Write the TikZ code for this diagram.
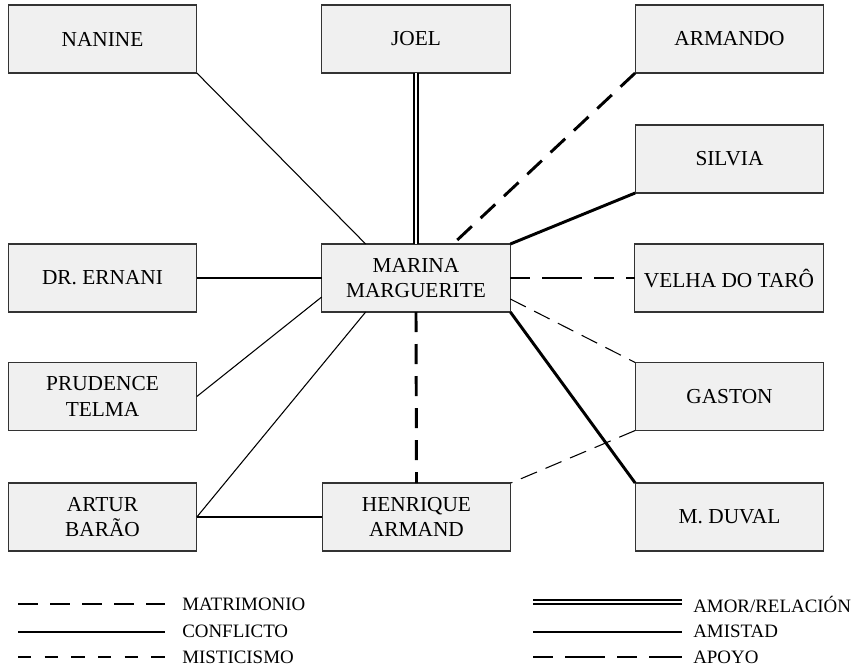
\documentclass[tikz,border=0pt]{standalone}
\usepackage{fontspec}
\setmainfont{Liberation Serif}
\usetikzlibrary{calc}

\begin{document}
\begin{tikzpicture}[x=0.75pt, y=-0.75pt,
    persona/.style={draw=black!80, fill=black!6, line width=0.9pt, outer sep=0pt,
        minimum width=141.5pt, minimum height=51pt, align=center,
        font=\fontsize{16}{19.3}\selectfont},
    leyenda/.style={anchor=west, inner sep=0pt, font=\fontsize{14.2}{16}\selectfont},
    matrimonio/.style={line width=2.2pt, dash pattern=on 15pt off 9pt},
    conflicto/.style={line width=0.8pt},
    misticismo/.style={line width=0.8pt, dash pattern=on 13pt off 7pt},
    amor/.style={line width=1.3pt, double, double distance=1.6pt},
    amistad/.style={line width=2.2pt},
    apoyo/.style={line width=1pt, dash pattern=on 15pt off 9pt on 30pt off 9pt}]
    \useasboundingbox (0,0) rectangle (856,667);

    % personajes
    \node[persona] (nanine)   at (102.5, 39)  {NANINE};
    \node[persona] (joel)     at (416, 39)    {JOEL};
    \node[persona] (armando)  at (729.5, 39)  {ARMANDO};
    \node[persona] (silvia)   at (729.5, 159) {SILVIA};
    \node[persona] (ernani)   at (102.5, 278) {DR. ERNANI};
    \node[persona] (marina)   at (416, 278)   {MARINA\\MARGUERITE};
    \node[persona] (velha)    at (729, 278)   {VELHA DO TARÔ};
    \node[persona] (prudence) at (102.5, 396.5) {PRUDENCE\\TELMA};
    \node[persona] (gaston)   at (729.5, 396.5) {GASTON};
    \node[persona] (artur)    at (102.5, 517) {ARTUR\\BARÃO};
    \node[persona] (henrique) at (416.5, 517) {HENRIQUE\\ARMAND};
    \node[persona] (duval)    at (729.5, 517) {M. DUVAL};

    % relaciones
    \draw[conflicto] (nanine.south east) -- ($(marina.north west)+(44,0)$);
    \draw[amor] (joel.south) -- (marina.north);
    \draw[matrimonio] (armando.south west) -- ($(marina.north)+(37,0)$);
    \draw[amistad] (silvia.south west) -- (marina.north east);
    \draw[apoyo] (marina.east) -- (velha.west);
    \draw[misticismo] ($(marina.east)+(0,21)$) -- (gaston.north west);
    \draw[amistad] (marina.south east) -- (duval.north west);
    \draw[misticismo] (gaston.south west) -- (henrique.north east);
    \draw[conflicto] (ernani.east) -- (marina.west);
    \draw[conflicto] (prudence.east) -- ($(marina.west)+(0,19)$);
    \draw[conflicto] (artur.east) -- ($(marina.south west)+(44,0)$);
    \draw[amistad] (artur.east) -- (henrique.west);
    \draw[matrimonio] (marina.south) -- (henrique.north);

    % leyenda
    \coordinate (ma1) at (18,604);  \coordinate (ma2) at (165,604);
    \coordinate (co1) at (18,632);  \coordinate (co2) at (165,632);
    \coordinate (mi1) at (18,657);  \coordinate (mi2) at (165,657);
    \coordinate (am1) at (533,602); \coordinate (am2) at (682,602);
    \coordinate (as1) at (533,632); \coordinate (as2) at (682,632);
    \coordinate (ap1) at (533,657); \coordinate (ap2) at (682,657);
    \draw[matrimonio] (ma1) -- (ma2);
    \draw[conflicto] (co1) -- (co2);
    \draw[misticismo, dash pattern=on 10pt off 10pt] (mi1) -- (mi2);
    \draw[amor] (am1) -- (am2);
    \draw[amistad] (as1) -- (as2);
    \draw[apoyo] (ap1) -- (ap2);
    \node[leyenda] (tma) at (182,604) {MATRIMONIO};
    \node[leyenda] (tco) at (182,631) {CONFLICTO};
    \node[leyenda] (tmi) at (182,657) {MISTICISMO};
    \node[leyenda] (tam) at (693,604) {AMOR/RELACIÓN};
    \node[leyenda] (tas) at (693,631) {AMISTAD};
    \node[leyenda] (tap) at (693,657) {APOYO};
\end{tikzpicture}
\end{document}
